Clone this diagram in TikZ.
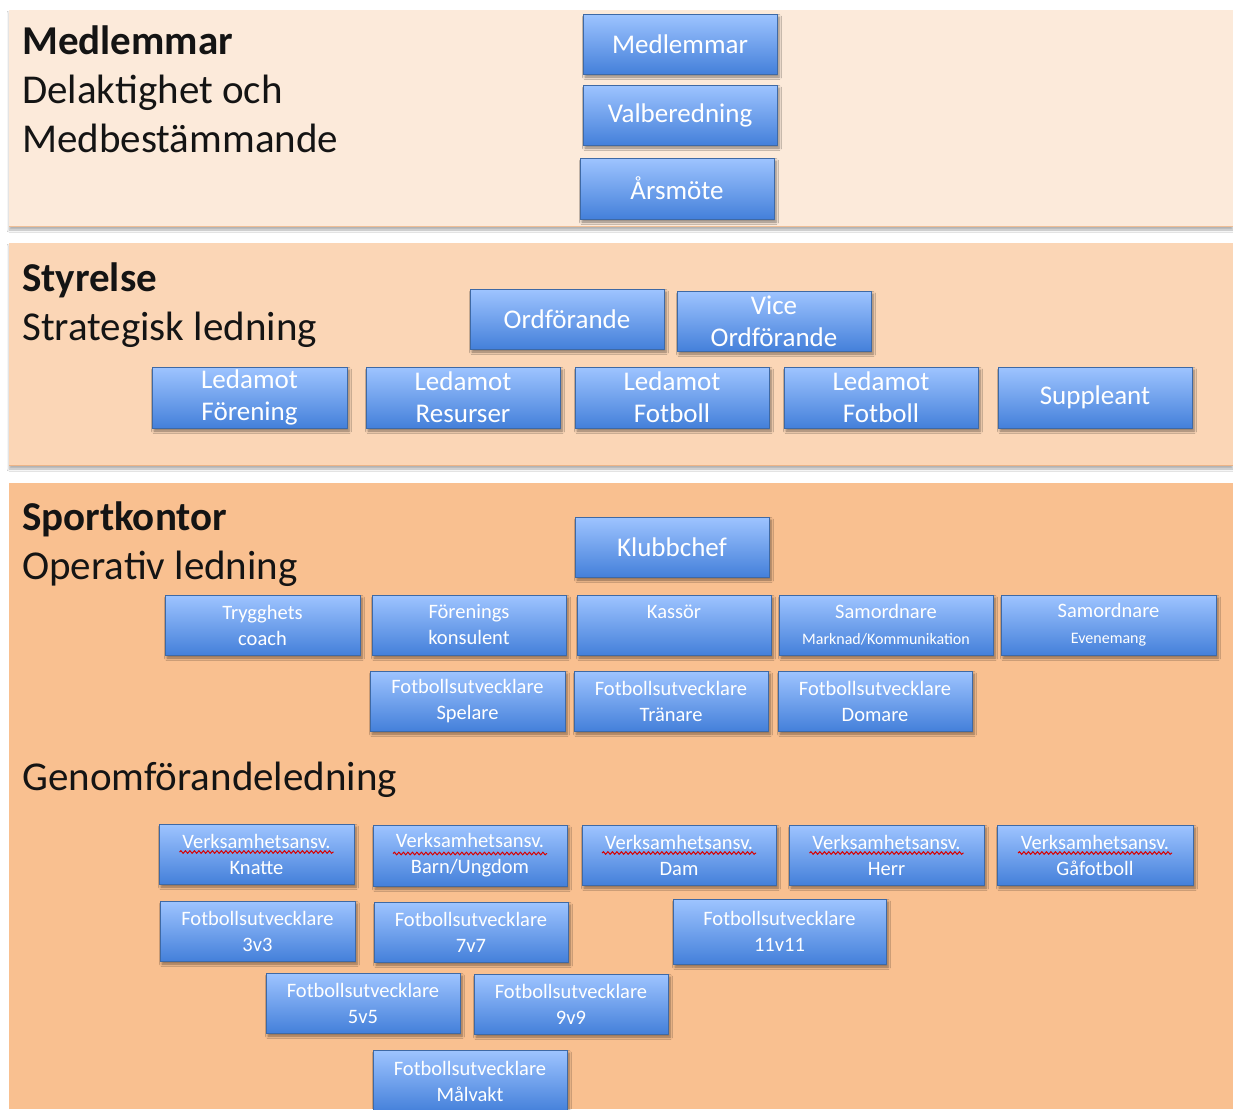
\documentclass[tikz,border=0pt]{standalone}
\usepackage{fontspec}
\setmainfont{Carlito}
\usetikzlibrary{shadows,shadows.blur,decorations.pathmorphing}
\definecolor{bandA}{RGB}{252,234,218}
\definecolor{bandB}{RGB}{251,214,182}
\definecolor{bandC}{RGB}{249,192,144}
\definecolor{edgeA}{RGB}{238,190,150}
\definecolor{edgeB}{RGB}{236,180,135}
\definecolor{boxtop}{RGB}{158,196,255}
\definecolor{boxbot}{RGB}{68,128,218}
\definecolor{boxline}{RGB}{62,105,165}
\definecolor{headtext}{RGB}{20,20,20}
\tikzset{
  band/.style={blur shadow={shadow xshift=0pt,shadow yshift=-3pt,shadow opacity=30,shadow blur steps=6,shadow blur radius=2pt}},
  head/.style={anchor=base west,inner sep=0pt,text=headtext,font=\fontsize{41}{50}\selectfont},
  box/.style={draw=boxline,line width=0.8pt,top color=boxtop,bottom color=boxbot,
    blur shadow={shadow xshift=2pt,shadow yshift=-3pt,shadow opacity=45,shadow blur steps=6,shadow blur radius=2.5pt},
    text=white,align=center,inner sep=0pt},
  bigtxt/.style={font=\fontsize{27}{32}\selectfont},
  smalltxt/.style={font=\fontsize{20.5}{26}\selectfont},
  wavy/.style={draw=red!85!black,line width=1pt,decorate,
    decoration={snake,segment length=4.5pt,amplitude=1.3pt}}
}
\newcommand\obox[7]{\node[box,#6,minimum width={(#4-#2)*1pt},minimum height={(#5-#3)*1pt}] (#1) at ({(#2+#4)/2},{(#3+#5)/2}) {#7};}
\newcommand\vwave[1]{\draw[wavy] ([xshift=-77pt,yshift=2pt]#1.center) -- ([xshift=77pt,yshift=2pt]#1.center);}
\begin{document}
\begin{tikzpicture}[x=1pt,y=-1pt]
\useasboundingbox (0,0) rectangle (1233,1109);
\fill[white] (0,0) rectangle (1233,1109);
% bands
\fill[bandA,band] (9,10) rectangle (1233,227);
\draw[edgeA,line width=1.5pt] (9,226.5) -- (1233,226.5);
\fill[bandB,band] (9,243) rectangle (1233,466);
\draw[edgeB,line width=1.5pt] (9,465.5) -- (1233,465.5);
\fill[bandC] (9,483) rectangle (1233,1109);
% headings
\node[head] (h1a) at (22,54) {\bfseries Medlemmar};
\node[head] (h1b) at (22,103) {Delaktighet och};
\node[head] (h1c) at (22,152) {Medbestämmande};
\node[head] (h2a) at (22,291) {\bfseries Styrelse};
\node[head] (h2b) at (22,340) {Strategisk ledning};
\node[head] (h3a) at (22,530) {\bfseries Sportkontor};
\node[head] (h3b) at (22,579) {Operativ ledning};
\node[head] (h3c) at (22,790) {Genomförandeledning};
% band 1
\obox{medl}{583}{14}{777}{74}{bigtxt}{Medlemmar}
\obox{valb}{583}{85}{777}{145}{bigtxt}{Valberedning}
\obox{arsm}{580}{158}{774}{219}{bigtxt}{Årsmöte}
% band 2
\obox{ordf}{470}{289}{664}{349}{bigtxt}{Ordförande}
\obox{vice}{677}{291}{871}{351}{bigtxt}{Vice\\Ordförande}
\obox{lfor}{152}{367}{347}{428}{bigtxt}{Ledamot\\Förening}
\obox{lres}{366}{367}{560}{428}{bigtxt}{Ledamot\\Resurser}
\obox{lfa}{575}{367}{769}{428}{bigtxt}{Ledamot\\Fotboll}
\obox{lfb}{784}{367}{978}{428}{bigtxt}{Ledamot\\Fotboll}
\obox{supp}{998}{367}{1192}{428}{bigtxt}{Suppleant}
% band 3
\obox{klubb}{575}{517}{769}{577}{bigtxt}{Klubbchef}
\obox{tryg}{165}{595}{360}{655}{smalltxt}{Trygghets\\coach}
\obox{fkon}{372}{595}{566}{655}{smalltxt}{Förenings\\konsulent}
\obox{kass}{577}{595}{771}{655}{smalltxt}{Kassör\\\phantom{x}}
\obox{samm}{779}{595}{993}{655}{smalltxt}{Samordnare\\{\fontsize{16}{20}\selectfont Marknad/Kommunikation}}
\obox{same}{1001}{595}{1216}{655}{smalltxt}{Samordnare\\{\fontsize{16}{20}\selectfont Evenemang}}
\obox{fspel}{370}{671}{565}{731}{smalltxt}{Fotbollsutvecklare\\Spelare}
\obox{ftran}{574}{671}{768}{731}{smalltxt}{Fotbollsutvecklare\\Tränare}
\obox{fdom}{778}{671}{972}{731}{smalltxt}{Fotbollsutvecklare\\Domare}
\obox{vkn}{159}{824}{354}{884}{smalltxt}{Verksamhetsansv.\\Knatte}
\obox{vbu}{373}{825}{567}{886}{smalltxt}{Verksamhetsansv.\\Barn/Ungdom}
\obox{vdam}{582}{825}{776}{885}{smalltxt}{Verksamhetsansv.\\Dam}
\obox{vher}{789}{825}{984}{885}{smalltxt}{Verksamhetsansv.\\Herr}
\obox{vgaf}{997}{825}{1193}{885}{smalltxt}{Verksamhetsansv.\\Gåfotboll}
\obox{f33}{160}{901}{355}{961}{smalltxt}{Fotbollsutvecklare\\3v3}
\obox{f77}{374}{902}{568}{962}{smalltxt}{Fotbollsutvecklare\\7v7}
\obox{f1111}{673}{899}{886}{964}{smalltxt}{Fotbollsutvecklare\\11v11}
\obox{f55}{266}{973}{460}{1033}{smalltxt}{Fotbollsutvecklare\\5v5}
\obox{f99}{474}{974}{668}{1034}{smalltxt}{Fotbollsutvecklare\\9v9}
\obox{fmal}{373}{1050}{567}{1112}{smalltxt}{Fotbollsutvecklare\\Målvakt}
% spell-check underlines
\vwave{vkn}
\vwave{vbu}
\vwave{vdam}
\vwave{vher}
\vwave{vgaf}
\end{tikzpicture}
\end{document}
